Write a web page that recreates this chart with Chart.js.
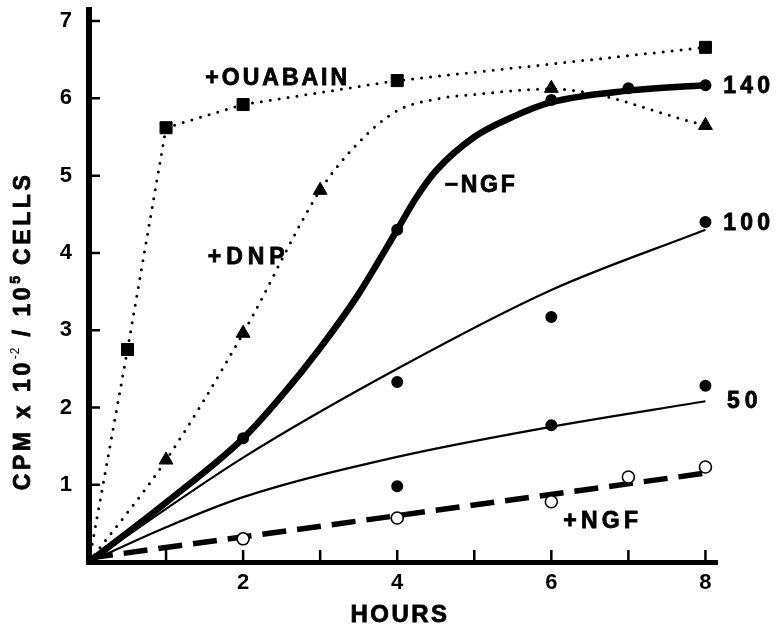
<!DOCTYPE html>
<html lang="en">
<head>
<meta charset="UTF-8">
<title>CPM vs hours</title>
<script src="https://cdn.jsdelivr.net/npm/chart.js"></script>
<style>
  html, body { margin: 0; padding: 0; background: #fff; }
  canvas { display: block; }
</style>
</head>
<body>
<canvas id="uptakeChart" width="776" height="627"></canvas>
<script>
// values: x = hours, y = CPM x 10^-2 / 10^5 cells

// +OUABAIN (squares, dotted straight segments)
const ouabainHours = [0, 0.5, 1, 2, 4, 8];
const ouabainCpm   = [0, 2.75, 5.62, 5.92, 6.23, 6.66];

// +DNP (triangles, dotted curve)
const dnpHours = [1, 2, 3, 6, 8];
const dnpCpm   = [1.32, 2.96, 4.81, 6.13, 5.65];
const dnpCurveHours = [0, 1, 2, 3, 3.5, 4, 4.5, 5, 6, 8];
const dnpCurveCpm   = [0, 1.32, 2.96, 4.81, 5.43, 5.84, 5.99, 6.05, 6.12, 5.65];

// -NGF / 140 (dots, heavy curve)
const ngf140Hours = [2, 4, 6, 7, 8];
const ngf140Cpm   = [1.6, 4.3, 5.98, 6.13, 6.17];
const ngf140CurveHours = [0, 1, 2, 2.5, 3, 3.5, 4, 4.25, 4.5, 5, 5.5, 6, 7, 8];
const ngf140CurveCpm   = [0, 0.77, 1.6, 2.15, 2.77, 3.47, 4.3, 4.72, 5.06, 5.5, 5.76, 5.95, 6.1, 6.17];

// 100
const ngf100Hours = [4, 6, 8];
const ngf100Cpm   = [2.33, 3.17, 4.4];
const ngf100CurveHours = [0, 2, 4, 6, 8];
const ngf100CurveCpm   = [0, 1.35, 2.5, 3.52, 4.3];

// 50
const ngf50Hours = [4, 6, 8];
const ngf50Cpm   = [0.98, 1.77, 2.28];
const ngf50CurveHours = [0, 1, 2, 4, 6, 8];
const ngf50CurveCpm   = [0, 0.45, 0.84, 1.36, 1.75, 2.08];

// +NGF (open circles, dashed line)
const plusNgfHours = [2, 4, 6, 7, 8];
const plusNgfCpm   = [0.3, 0.57, 0.78, 1.1, 1.23];
const plusNgfLineHours = [0, 8];
const plusNgfLineCpm   = [0.05, 1.15];

// axes
const hourTicks  = [1, 2, 3, 4, 5, 6, 7, 8];
const hourLabels = [2, 4, 6, 8];
const cpmTicks   = [1, 2, 3, 4, 5, 6, 7];

const FONT = '"Liberation Sans", Arial, Helvetica, sans-serif';

// text written on the plot (placed in data units)
const curveLabels = [
  { text: '+OUABAIN', x: 2.43, y: 6.28, align: 'center', size: 23, spacing: 3 },
  { text: '+DNP',     x: 2.04, y: 3.96, align: 'center', size: 23, spacing: 5 },
  { text: '\u2212NGF', x: 5.07, y: 4.90, align: 'center', size: 23, spacing: 2.7 },
  { text: '140',      x: 8.23, y: 6.17, align: 'left',   size: 23, spacing: 4.3 },
  { text: '100',      x: 8.23, y: 4.40, align: 'left',   size: 23, spacing: 4.3 },
  { text: '50',       x: 8.28, y: 2.10, align: 'left',   size: 23, spacing: 5 },
  { text: '+NGF',     x: 6.64, y: 0.55, align: 'center', size: 23, spacing: 4.3 }
];

const yTitleParts = [
  { text: 'CPM x 10', size: 23, weight: 'bold', rise: 0, spacing: 3.6 },
  { text: '-2',       size: 12, weight: 'normal', rise: 11, spacing: 1 },
  { text: ' / 10',    size: 23, weight: 'bold', rise: 0, spacing: 3.6 },
  { text: '5',        size: 14, weight: 'bold', rise: 10, spacing: 1 },
  { text: ' CELLS',   size: 23, weight: 'bold', rise: 0, spacing: 3.6 }
];

const pts = (xs, ys) => xs.map((h, i) => ({ x: h, y: ys[i] }));

// bold text with tracking, slightly stroked to look as heavy as the print
function drawSpaced(ctx, text, x, y, size, spacing, align, weight) {
  ctx.font = (weight || 'bold') + ' ' + size + 'px ' + FONT;
  ctx.letterSpacing = spacing + 'px';
  const w = ctx.measureText(text).width - spacing;
  ctx.textAlign = 'left';
  ctx.textBaseline = 'alphabetic';
  const left = align === 'center' ? x - w / 2 : x;
  const by = y + size * 0.716 / 2;
  ctx.fillText(text, left, by);
  ctx.lineWidth = 0.8;
  ctx.strokeText(text, left, by);
}

const figureText = {
  id: 'figureText',
  afterDraw(chart) {
    const { ctx, scales: { x, y } } = chart;
    const x0 = x.getPixelForValue(0);
    const y0 = y.getPixelForValue(0);
    ctx.save();
    ctx.fillStyle = '#000';
    ctx.strokeStyle = '#000';

    // inward tick marks
    ctx.lineWidth = 2.5;
    ctx.beginPath();
    hourTicks.forEach(h => {
      const px = x.getPixelForValue(h);
      ctx.moveTo(px, y0);
      ctx.lineTo(px, y0 - 12);
    });
    cpmTicks.forEach(v => {
      const py = y.getPixelForValue(v);
      ctx.moveTo(x0, py);
      ctx.lineTo(x0 + 11, py);
    });
    ctx.stroke();
    // close the corner of the two axis lines
    ctx.fillRect(x0 - 3, y0 - 3, 6, 6);

    curveLabels.forEach(l => {
      drawSpaced(ctx, l.text, x.getPixelForValue(l.x), y.getPixelForValue(l.y),
                 l.size, l.spacing, l.align);
    });

    // x axis title
    drawSpaced(ctx, 'HOURS', x.getPixelForValue(4.02), y0 + 51, 24, 2.5, 'center');

    // y axis title (rotated, with superscripts)
    ctx.save();
    ctx.translate(x0 - 67, y.getPixelForValue(2.99));
    ctx.rotate(-Math.PI / 2);
    let total = 0;
    const widths = yTitleParts.map(p => {
      ctx.font = p.weight + ' ' + p.size + 'px ' + FONT;
      ctx.letterSpacing = p.spacing + 'px';
      const w = ctx.measureText(p.text).width;
      total += w;
      return w;
    });
    let cx = -total / 2;
    const base = 23 * 0.716 / 2;
    ctx.textAlign = 'left';
    ctx.textBaseline = 'alphabetic';
    ctx.lineWidth = 0.8;
    yTitleParts.forEach((p, i) => {
      ctx.font = p.weight + ' ' + p.size + 'px ' + FONT;
      ctx.letterSpacing = p.spacing + 'px';
      ctx.fillText(p.text, cx, base - p.rise);
      if (p.weight === 'bold') ctx.strokeText(p.text, cx, base - p.rise);
      cx += widths[i];
    });
    ctx.restore();

    ctx.restore();
  }
};

const dotted = { borderDash: [0, 9], borderCapStyle: 'round', borderWidth: 3 };

const datasets = [
  { label: '+OUABAIN', data: pts(ouabainHours, ouabainCpm), showLine: true, tension: 0,
    borderColor: '#000', ...dotted,
    pointStyle: 'rect', pointRadius: ctx => ctx.dataIndex === 0 ? 0 : 8.5,
    pointBackgroundColor: '#000', pointBorderColor: '#000', pointBorderWidth: 1, order: 1 },
  { label: '+DNP points', data: pts(dnpHours, dnpCpm), showLine: false,
    pointStyle: 'triangle', pointRadius: 8, pointBackgroundColor: '#000',
    pointBorderColor: '#000', pointBorderWidth: 1, order: 0 },
  { label: '+DNP', data: pts(dnpCurveHours, dnpCurveCpm), cubicInterpolationMode: 'monotone',
    borderColor: '#000', ...dotted, pointRadius: 0, order: 2 },
  { label: '140 points', data: pts(ngf140Hours, ngf140Cpm), showLine: false,
    pointStyle: 'circle', pointRadius: 5, pointBackgroundColor: '#000',
    pointBorderColor: '#000', pointBorderWidth: 2, order: 0 },
  { label: '-NGF', data: pts(ngf140CurveHours, ngf140CurveCpm), cubicInterpolationMode: 'monotone',
    borderColor: '#000', borderWidth: 6.5, pointRadius: 0, order: 2 },
  { label: '100 points', data: pts(ngf100Hours, ngf100Cpm), showLine: false,
    pointStyle: 'circle', pointRadius: 5, pointBackgroundColor: '#000',
    pointBorderColor: '#000', pointBorderWidth: 2, order: 0 },
  { label: '100', data: pts(ngf100CurveHours, ngf100CurveCpm), cubicInterpolationMode: 'monotone',
    borderColor: '#000', borderWidth: 2.2, pointRadius: 0, order: 2 },
  { label: '50 points', data: pts(ngf50Hours, ngf50Cpm), showLine: false,
    pointStyle: 'circle', pointRadius: 5, pointBackgroundColor: '#000',
    pointBorderColor: '#000', pointBorderWidth: 2, order: 0 },
  { label: '50', data: pts(ngf50CurveHours, ngf50CurveCpm), cubicInterpolationMode: 'monotone',
    borderColor: '#000', borderWidth: 2.2, pointRadius: 0, order: 2 },
  { label: '+NGF points', data: pts(plusNgfHours, plusNgfCpm), showLine: false,
    pointStyle: 'circle', pointRadius: 6, pointBackgroundColor: '#fff',
    pointBorderColor: '#000', pointBorderWidth: 1.6, order: 0 },
  { label: '+NGF', data: pts(plusNgfLineHours, plusNgfLineCpm), tension: 0,
    borderColor: '#000', borderWidth: 5.5, borderDash: [24, 11], pointRadius: 0, order: 2 }
];

new Chart(document.getElementById('uptakeChart'), {
  type: 'line',
  data: { datasets },
  plugins: [figureText],
  options: {
    responsive: false,
    animation: false,
    events: [],
    layout: { padding: { left: 0, right: 59, top: 9, bottom: 0 } },
    plugins: { legend: { display: false }, tooltip: { enabled: false } },
    scales: {
      x: {
        type: 'linear', min: 0, max: 8.15,
        grid: { display: false, drawTicks: false },
        border: { display: true, color: '#000', width: 5 },
        ticks: {
          stepSize: 1, includeBounds: false, autoSkip: false, maxRotation: 0,
          padding: 8, color: '#000',
          font: { family: FONT, size: 22, weight: 'bold' },
          callback: v => hourLabels.includes(v) ? String(v) : ''
        },
        afterFit: s => {
          s.height = 65;
          s.paddingLeft = s.paddingRight = s.paddingTop = s.paddingBottom = 0;
        }
      },
      y: {
        min: 0, max: 7.15,
        grid: { display: false, drawTicks: false },
        border: { display: true, color: '#000', width: 6 },
        ticks: {
          stepSize: 1, includeBounds: false, autoSkip: false,
          padding: 17, color: '#000',
          font: { family: FONT, size: 22, weight: 'bold' },
          callback: v => cpmTicks.includes(v) ? String(v) : ''
        },
        afterFit: s => {
          s.width = 89;
          s.paddingLeft = s.paddingRight = s.paddingTop = s.paddingBottom = 0;
        }
      }
    }
  }
});
</script>
</body>
</html>
